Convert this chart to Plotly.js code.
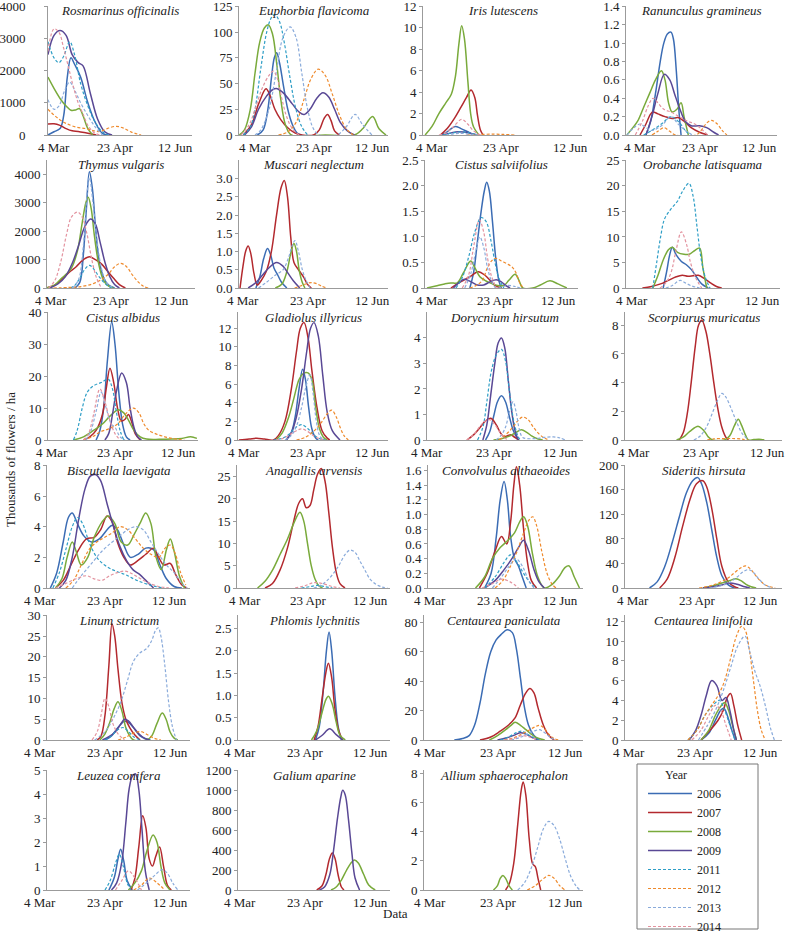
<!DOCTYPE html>
<html><head><meta charset="utf-8">
<script src="https://cdn.plot.ly/plotly-3.0.1.min.js"></script>
<style>html,body{margin:0;padding:0;background:#fff;overflow:hidden}
.fontwarm{position:absolute;left:0;top:0;visibility:hidden;font-family:'Liberation Serif';font-size:13px;pointer-events:none}</style>
</head><body>
<div class="fontwarm" aria-hidden="true">Aa 0123 <i>Aa italic</i></div>
<div id="chart" style="width:788px;height:932px"></div>
<script>
const YEARS = ['2006','2007','2008','2009','2011','2012','2013','2014'];
const X_TICK_VALUES = [0, 50, 100];
const X_TICK_LABELS = ['4 Mar','23 Apr','12 Jun'];

// ---- data: [days since 4 Mar, thousands of flowers / ha] ----
const ros_06 = [[-5,0],[0,100],[5,200],[8,600],[11,1800],[14,2400],[17,2200],[22,1800],[28,1000],[34,400],[40,50],[45,0]];
const ros_07 = [[-5,340],[0,350],[5,300],[10,200],[15,130],[20,110],[27,60],[35,0]];
const ros_08 = [[-5,1800],[0,1450],[6,1080],[10,900],[14,770],[18,780],[21,820],[24,600],[28,200],[32,0]];
const ros_09 = [[-5,2500],[0,3100],[5,3250],[10,3100],[15,2500],[20,2250],[24,2150],[30,1300],[36,500],[42,100],[48,0]];
const ros_11 = [[-5,2900],[0,2400],[4,2250],[8,2450],[13,2900],[17,2500],[22,1600],[28,900],[34,400],[40,100],[45,0]];
const ros_12 = [[-5,800],[0,620],[5,470],[10,360],[18,250],[26,200],[33,130],[38,110],[44,200],[51,270],[57,220],[64,90],[72,0]];
const ros_13 = [[-5,1100],[0,800],[4,900],[9,1400],[13,1650],[17,1400],[22,1000],[28,600],[34,250],[40,0]];
const ros_14 = [[-5,2600],[0,3300],[4,3200],[8,2700],[12,2100],[16,1500],[20,1000],[24,650],[28,300],[33,80],[38,0]];

const eup_06 = [[2,0],[7,5],[11,25],[14,55],[16.5,75],[18.5,80],[21,70],[24,50],[28,25],[32,10],[36,2],[40,0]];
const eup_07 = [[-10,0],[-3,10],[3,30],[9.4,45],[13,38],[17,25],[22,15],[28,7],[34,2],[40,0],[50,0],[55,5],[59,16],[62,20],[65,14],[68,4],[72,0]];
const eup_08 = [[-13.4,0],[-9,5],[-4,25],[0,60],[4,90],[8,104],[11.5,107],[15,98],[18.5,70],[22,35],[26,10],[31,0],[60,0],[85,0],[92,6],[100.5,18],[106,6],[112,0]];
const eup_09 = [[-9,0],[-3,8],[3,25],[10,38],[15,44],[19,45],[25,40],[32,30],[38,22],[42,20],[47,25],[53,36],[58,41],[63,37],[68,25],[73,12],[79,4],[85,0]];
const eup_11 = [[-10,0],[-4,8],[0,25],[5,65],[10,100],[14,114],[17,117],[21,110],[25,90],[30,55],[35,25],[40,8],[45,0]];
const eup_12 = [[20,0],[28,3],[35,12],[42,35],[48,55],[54,64],[60,58],[66,40],[72,20],[78,6],[84,0]];
const eup_13 = [[0,0],[5,5],[12,25],[18,60],[24,95],[30,105],[35,95],[40,60],[45,25],[50,6],[55,0],[70,0],[78,8],[85.5,20],[92,10],[100,0]];
const eup_14 = [[-12,0],[-5,10],[0,25],[6,45],[12,58],[15.7,62],[19,55],[23,35],[27,18],[32,6],[38,0]];

const iri_06 = [[6,0],[11,0.3],[16.7,0.8],[21,0.6],[26,0.3],[30,0.05],[33,0]];
const iri_07 = [[6,0],[11,0.6],[16,1.5],[21,2.6],[25,3.5],[28.3,4.2],[31,3.5],[33,1.8],[35,0.5],[37,0]];
const iri_08 = [[-5,0],[0,0.8],[5,2],[10,3],[14,3.8],[17,5.5],[19.5,8.5],[21.5,10.2],[23.5,9],[26,5],[28,2],[30,0.8],[34,0]];
const iri_09 = [[8,0],[14,0.2],[19,0.3],[25,0.25],[31,0.05],[35,0]];
const iri_11 = [[8,0],[15,0.2],[21,0.3],[27,0.2],[33,0]];
const iri_12 = [[25,0],[35,0.05],[45,0.08],[52,0.05],[60,0]];
const iri_13 = [[10,0],[20,0.15],[30,0.05],[35,0]];
const iri_14 = [[5,0],[10,0.2],[15,0.7],[21.5,1.45],[26,1.0],[30,0.4],[35,0]];

const ran_06 = [[5,0],[9,0.15],[13,0.45],[17,0.8],[20,1.0],[23,1.1],[26,1.12],[28,1.05],[30.5,0.7],[32.5,0.3],[34.5,0]];
const ran_07 = [[0,0],[5,0.12],[9,0.23],[11,0.25],[15,0.23],[21,0.2],[27,0.18],[32,0.19],[37,0.15],[43,0.08],[50,0.03],[57,0]];
const ran_08 = [[-11,0],[-6,0.08],[-2,0.15],[3,0.3],[8,0.45],[13,0.6],[18,0.7],[21,0.6],[24,0.35],[27,0.25],[31,0.28],[34.5,0.35],[37,0.2],[40.6,0]];
const ran_09 = [[5,0],[10,0.2],[15,0.45],[20.4,0.66],[25,0.6],[29,0.45],[33,0.3],[38,0.15],[43,0.1],[50,0.1],[56,0.08],[62,0.03],[66,0]];
const ran_11 = [[3,0],[10,0.05],[18,0.12],[26,0.2],[32,0.15],[38,0.05],[42,0]];
const ran_12 = [[10,0],[15,0.04],[20,0.08],[25,0.04],[30,0],[47,0],[52,0.06],[56,0.13],[60,0.16],[65,0.12],[69,0.05],[73,0]];
const ran_13 = [[-11,0],[-5,0.08],[0,0.12],[5,0.08],[10,0.05],[18,0.1],[26,0.2],[32,0.12],[38,0.05],[44,0]];
const ran_14 = [[-4,0],[2,0.15],[7,0.32],[11,0.4],[15,0.35],[20,0.28],[26,0.25],[33,0.2],[40,0.15],[46,0.12],[52,0.06],[57,0]];

const thy_06 = [[20,0],[24,200],[27,1200],[29.5,2800],[32,4100],[34.5,3500],[37,2200],[40,1000],[44,350],[48,100],[53,0]];
const thy_07 = [[-4,0],[3,100],[9,300],[15,550],[21,750],[27,1000],[32,1100],[37,1000],[42,850],[47,600],[52,350],[57,120],[62,0]];
const thy_08 = [[-4,0],[3,100],[9,350],[13,500],[17,700],[22,1300],[26,2300],[29,3000],[31,3200],[33.5,2800],[36,1900],[39.5,900],[43,350],[47,100],[52,0]];
const thy_09 = [[-1,0],[6,150],[12,400],[18,900],[23,1500],[28,2150],[33,2430],[37,2250],[41,1600],[45,900],[49,400],[53,120],[57,0]];
const thy_11 = [[16,0],[20,100],[24,350],[28,650],[32,800],[36,650],[40,400],[44,200],[48,60],[53,0]];
const thy_12 = [[2,0],[15,20],[25,50],[35,150],[42,300],[48,500],[53,750],[58,870],[63,750],[68,450],[73,200],[77,60],[81,0]];
const thy_13 = [[18,0],[23,300],[27,1500],[30,3300],[32,3900],[35,3000],[38,1800],[42,700],[46,200],[52,0]];
const thy_14 = [[-2,0],[3,250],[8,900],[13,1900],[17,2500],[22,2680],[26,2500],[30,1900],[34,1000],[38,350],[42,0]];

const mus_06 = [[10,0],[13,0.3],[16,0.8],[19,1.08],[21.5,0.9],[24,0.55],[27,0.35],[30,0.15],[34,0]];
const mus_07 = [[-2.3,0],[0,0.6],[2,1.0],[4,1.15],[6,0.95],[8.5,0.4],[11,0.08],[14,0.2],[18,0.45],[22,1.0],[26,2.0],[29.5,2.75],[32,2.95],[34.5,2.5],[37,1.4],[39.5,0.7],[43,0.5],[47,0.3],[50,0.1],[53,0]];
const mus_08 = [[25,0],[30,0.1],[34,0.45],[37,0.95],[39.5,1.22],[41.5,1.0],[43.5,0.5],[46,0.15],[48,0]];
const mus_09 = [[4,0],[10,0.15],[15,0.35],[20,0.55],[26,0.7],[31,0.6],[35,0.4],[39,0.2],[44,0]];
const mus_12 = [[40,0],[45,0.06],[50,0.13],[53,0.15],[57,0.12],[61,0.05],[65,0]];
const mus_13 = [[12,0],[18,0.15],[25,0.35],[31,0.5],[35,0.8],[38,1.15],[40.3,1.3],[43,1.0],[46,0.5],[49,0.2],[52,0]];

const csa_06 = [[30,0],[33,0.3],[36,0.9],[39,1.5],[41.5,1.9],[43.4,2.07],[45.5,1.9],[48,1.3],[50.5,0.6],[53,0.15],[55,0]];
const csa_07 = [[15,0],[20,0.08],[25,0.15],[30,0.22],[36.8,0.32],[42,0.25],[46,0.15],[50,0.05],[55,0]];
const csa_08 = [[-4,0],[3,0.04],[10,0.08],[15,0.1],[20,0.1],[25,0.3],[30.7,0.53],[34,0.4],[38,0.22],[42,0.15],[46,0.1],[52,0.05],[57,0.05],[61,0.15],[66,0.27],[69,0.15],[72,0],[80,0],[86,0.06],[93.6,0.14],[100,0.08],[107,0]];
const csa_09 = [[17,0],[22,0.12],[26,0.17],[31,0.12],[36,0.06],[41,0.06],[46,0.12],[51,0.16],[55,0.12],[59,0.04],[62,0]];
const csa_11 = [[19,0],[24,0.2],[29,0.6],[34,1.1],[39,1.38],[43,1.3],[47,0.9],[50,0.5],[53,0.2],[57,0]];
const csa_12 = [[30,0],[35,0.05],[40,0.15],[44,0.4],[48,0.55],[51,0.58],[55,0.53],[60,0.47],[64,0.4],[67,0.28],[70,0.08],[73,0]];
const csa_13 = [[26,0],[31,0.3],[35,0.75],[38,1.0],[41,0.8],[44,0.4],[47,0.15],[51,0],[60,0.05],[66,0.03],[70,0]];
const csa_14 = [[24,0],[29,0.25],[33,0.8],[37.6,1.33],[41,1.1],[44,0.6],[47,0.25],[51,0]];

const oro_06 = [[24,0],[26.5,3],[29,6.5],[31,8],[34,6.5],[38,5.2],[42,4.5],[46,3.5],[50,2],[54,0.7],[58.7,0]];
const oro_07 = [[8,0],[15,0.3],[22,0.8],[28,1.5],[34,2.2],[38.7,2.5],[43,2.3],[47,2.4],[51,2.5],[56,1.8],[61,0.9],[65,0.3],[69,0]];
const oro_08 = [[16,0],[20,2.5],[24,5.5],[28,7.5],[31,8],[35,7],[40,6.6],[44,6.6],[48,7.3],[52,7.8],[54.5,4],[57.5,0]];
const oro_11 = [[16,0],[19,5],[22,10],[25,13.5],[30,15.5],[35,17],[39,19],[43.8,20.5],[47,18],[50,12],[53,6],[56.5,2],[60,0]];
const oro_13 = [[26,0],[31,0.5],[37,1.5],[41,1.0],[46,0.4],[52,0]];
const oro_14 = [[21.5,0],[26,1],[30,3],[34,7.5],[38,11],[42,8.5],[45,5],[49,2],[53.6,0]];

const cal_06 = [[35,0],[38,3],[41,10],[44,25],[47.4,37],[50,30],[53,15],[56,5],[59,1],[62,0]];
const cal_07 = [[25,0],[30,1],[35,3],[40,8],[43,16],[46,22.5],[49,18],[52,10],[55,6],[58,6.5],[60.6,8],[63,6],[66,2],[70,0]];
const cal_08 = [[17,0],[25,1],[33,3],[40,5],[46,7.5],[52.6,9.5],[57,8.5],[61,6],[65,3],[70,1],[75,0.3],[85,0.2],[95,0.3],[103,0.5],[110,1.0],[115,0.5]];
const cal_09 = [[42,0],[45,2],[48,8],[51,15],[55.3,21],[59,18],[62,10],[65,4],[68,1],[71,0]];
const cal_11 = [[17,0],[20,3],[24,10],[28,15],[33,17],[39,18],[44.7,19],[48,16],[51,9],[54,3],[57,0]];
const cal_12 = [[25,0],[32,1],[38,2.5],[45,3.5],[52,5],[58,8],[64.6,10],[69,8.5],[73,5],[77,3],[82,2],[88,1.2],[95,0.5],[105,0]];
const cal_13 = [[27,0],[31,3],[35,9],[39,15],[43,10],[47,5],[50,4],[54,1],[58,0]];
const cal_14 = [[25,0],[29,2],[33,8],[38,16],[42,12],[46,6],[50,2],[54,0]];

const gla_06 = [[33,0],[37,0.8],[40,2.5],[43,5.5],[45.8,7.6],[48,6.5],[50.5,3.5],[53,1.2],[56,0.2],[58,0]];
const gla_07 = [[-4,0],[4,0.1],[10,0.2],[16,0.1],[23,0],[27,0.5],[32,2],[37,5.5],[41,9.5],[44,12],[46.9,12.6],[50,11],[53,7.5],[57,3.5],[61,1],[65,0.2],[67,0]];
const gla_08 = [[25,0],[30,0.8],[35,2.5],[39,4.5],[43,6.5],[46,7.1],[50,7.2],[53,6.5],[56,3.5],[59,1.2],[62,0.3],[65,0]];
const gla_09 = [[33,0],[37,0.8],[41,2.5],[45,5.5],[49,9.5],[52,12],[54.7,12.6],[58,11.2],[61.5,7],[65,3],[69,1],[75,0]];
const gla_11 = [[23,0],[30,0.2],[35,0.6],[40,1.3],[45,1.65],[50,1.2],[55,0.5],[60,0.1],[64,0]];
const gla_12 = [[41,0],[48,0.3],[55,1],[60,1.8],[65,2.8],[68.5,3.2],[72,2.5],[75,1.4],[78,0.5],[81.5,0]];
const gla_13 = [[32,0],[37,0.5],[41,1.5],[45,3.5],[48,5.5],[51.5,7],[54,5],[56.5,2],[59,0.5],[62,0]];
const gla_14 = [[25,0],[31,0.2],[36,0.6],[41,1.0],[45,1.2],[50,0.9],[55,0.4],[60,0.1],[64,0]];

const dor_06 = [[44,0],[47,0.3],[50,0.9],[53,1.5],[56,1.73],[59,1.5],[62,0.9],[65,0.35],[68.5,0]];
const dor_07 = [[30,0],[35,0.2],[40,0.5],[44,0.75],[48,0.85],[52,0.6],[55,0.3],[58,0.12],[61,0.18],[63.5,0.2],[66,0.1],[69,0]];
const dor_08 = [[50,0],[56,0.05],[62,0.15],[67,0.3],[71,0.4],[75,0.3],[79,0.15],[83,0.05],[87,0]];
const dor_09 = [[42,0],[45,0.6],[48,1.8],[51,3.0],[53.5,3.8],[56,4.0],[58.5,3.6],[61,2.4],[63.5,1.2],[66,0.4],[68.5,0]];
const dor_11 = [[38,0],[42,0.5],[45,1.5],[48,2.6],[51,3.2],[53.5,3.45],[56,3.55],[59,3.1],[62,1.9],[65,0.8],[68,0.2],[70,0]];
const dor_12 = [[54,0],[58,0.15],[62,0.35],[66,0.6],[69,0.8],[72,0.9],[76,0.8],[80,0.5],[84,0.25],[88,0.08],[92,0]];
const dor_13 = [[52,0],[56,0.2],[59,0.5],[62,1.1],[64.7,1.5],[67,1.1],[69.5,0.4],[72,0.1],[80,0.05],[88,0.1],[95,0.12],[100,0.08],[104,0]];
const dor_14 = [[30,0],[35,0.2],[40,0.55],[44,0.75],[47,0.8],[51,0.6],[55,0.3],[58,0.1],[61,0]];

const sco_07 = [[34,0],[37,0.5],[40,1.8],[43,4],[46,6.5],[48.5,8],[51,8.35],[54,7.6],[57,6],[60,4],[63,2.2],[66,0.9],[69,0.2],[71,0]];
const sco_08 = [[32,0],[37,0.2],[42,0.6],[48.4,0.95],[53,0.6],[56,0.2],[59,0],[68,0],[72,0.3],[75.5,1.0],[78.4,1.45],[81,1.0],[84,0.3],[86,0],[90,0.03],[94,0.06],[98,0]];
const sco_12 = [[55,0],[60,0.08],[68,0.1],[76,0.1],[82,0.05],[86,0]];
const sco_13 = [[45,0],[50,0.3],[55,1.0],[59,1.9],[63,2.8],[66,3.25],[69,3.0],[73,2.2],[77,1.3],[81,0.5],[86,0]];

const bis_06 = [[8,0],[13,1],[18,3],[22,4.6],[25,4.9],[29,4.2],[34,3.4],[40,3.0],[46,3.2],[52,3.8],[56,4.1],[60,3.8],[65,2.8],[70,2.0],[76,2.2],[82,2.6],[88,2.5],[93,1.5],[98,0.6],[104,0.1],[110,0]];
const bis_07 = [[12,0],[18,0.5],[24,1.5],[30,2.5],[36,3.2],[42,3.3],[47,3.8],[52,4.7],[56,4.3],[60,3.0],[65,2.0],[70,1.5],[76,1.8],[82,2.2],[88,2.6],[92,2.0],[96,1.5],[101,1.6],[105,0.9],[110,0.2],[114,0]];
const bis_08 = [[12,0],[17,0.6],[21,2.0],[25,3.0],[28,2.4],[32,1.5],[37,2.0],[42,3.3],[48,4.3],[53,4.7],[58,4.2],[63,3.0],[68,2.8],[73,3.5],[78,4.3],[82,4.9],[86,4.2],[90,2.0],[94,1.2],[98,2.5],[101,3.2],[104,2.4],[108,0.8],[112,0]];
const bis_09 = [[15,0],[20,0.5],[25,2],[30,4.5],[35,6.5],[39,7.3],[43,7.4],[47,7.0],[52,5.5],[57,4],[62,2.7],[67,1.8],[72,1.2],[77,0.9],[82,0.5],[88,0]];
const bis_11 = [[10,0],[15,1],[20,2.5],[25,4.0],[29,4.6],[33,4.2],[38,3.0],[44,2.0],[50,1.5],[56,1.2],[62,1.0],[68,0.8],[75,0.5],[85,0.2],[95,0]];
const bis_12 = [[20,0],[26,0.5],[32,1.5],[38,2.5],[44,3.0],[50,3.3],[56,3.6],[62,4.0],[68,3.8],[74,3.2],[80,2.6],[86,2.2],[92,2.0],[97,2.6],[101,2.8],[105,2.2],[109,1.0],[113,0.2]];
const bis_13 = [[25,0],[32,0.8],[40,1.6],[48,2.4],[56,3.0],[62,3.4],[68,3.8],[74,4.0],[80,3.8],[86,3.0],[92,2.2],[98,1.5],[104,1.0],[110,0.3],[114,0]];
const bis_14 = [[12,0],[20,0.3],[28,0.6],[36,0.8],[42,0.6],[48,0.5],[54,0.8],[60,1.0],[66,1.1],[72,0.9],[78,0.6],[85,0.3],[92,0.1],[100,0]];

const ana_07 = [[16,0],[22,1],[28,4],[34,9],[39,15],[43,19],[46,20],[49,18],[52,18.5],[55,22],[58,25.5],[61,26.8],[64,24],[67,17],[70,9],[73,3.5],[76,1],[80,0]];
const ana_08 = [[10,0],[16,1.5],[22,4],[28,7.5],[34,11],[39,14.5],[44,17],[47,15],[50,10],[53,5],[56,2],[59,0.5],[62,0]];
const ana_11 = [[45,0],[52,0.3],[58,0.6],[64,0.3],[70,0]];
const ana_13 = [[55,0],[60,0.5],[65,1.5],[70,3],[75,5],[80,7.5],[84,8.5],[88,8],[92,6],[96,4],[100,2],[105,0.8],[110,0.2],[114,0]];
const ana_14 = [[40,0],[48,0.5],[55,1.2],[62,1.0],[70,0.3],[76,0]];

const con_06 = [[42,0],[47,0.2],[51,0.7],[54,1.2],[57,1.45],[59.5,1.2],[62,0.7],[65,0.4],[68,0.3],[71,0.15],[74,0]];
const con_07 = [[38,0],[44,0.2],[50,0.5],[55,0.7],[59,0.6],[62,0.9],[64.5,1.4],[66.5,1.65],[69,1.4],[72,0.8],[75,0.35],[78,0.1],[82,0]];
const con_08 = [[35,0],[42,0.15],[48,0.4],[54,0.55],[60,0.65],[65,0.75],[69,0.9],[72,0.97],[75,0.85],[79,0.45],[83,0.15],[88,0],[94,0.05],[99,0.15],[104,0.28],[107,0.3],[111,0.15],[115,0]];
const con_09 = [[42,0],[50,0.1],[57,0.25],[63,0.4],[68,0.55],[72,0.65],[76,0.5],[80,0.25],[84,0.08],[88,0]];
const con_11 = [[42,0],[50,0.15],[57,0.35],[62,0.45],[67,0.35],[72,0.2],[78,0.05],[82,0]];
const con_12 = [[50,0],[56,0.1],[62,0.3],[67,0.5],[72,0.75],[76,0.92],[79,0.97],[82,0.85],[86,0.5],[90,0.2],[94,0.05],[97,0]];
const con_13 = [[48,0],[55,0.15],[61,0.3],[66,0.4],[71,0.3],[76,0.1],[80,0]];
const con_14 = [[40,0],[48,0.06],[55,0.12],[62,0.08],[68,0]];

const sid_06 = [[13,0],[19,10],[25,35],[31,75],[37,120],[42,155],[47,175],[51,180],[54,170],[58,140],[62,95],[66,50],[70,20],[75,5],[80,0]];
const sid_07 = [[21,0],[27,15],[33,50],[39,100],[45,145],[50,170],[55,175],[58,165],[62,130],[66,80],[70,35],[75,10],[80,2],[83,0]];
const sid_08 = [[55,0],[62,3],[70,8],[76,12],[81,15],[85,12],[89,6],[93,2],[97,0]];
const sid_09 = [[55,0],[63,2],[70,5],[76,8],[82,6],[88,2],[92,0]];
const sid_12 = [[52,0],[60,3],[67,8],[74,15],[80,25],[85,33],[88.6,36],[92,32],[96,22],[100,12],[105,4],[110,1],[112,0]];
const sid_13 = [[60,0],[68,3],[75,8],[82,18],[87,27],[91,30],[95,25],[99,15],[104,5],[110,0]];

const lin_06 = [[50,0],[55,1],[60,3],[65,4.5],[69,4],[73,2.5],[77,1],[81,0.3],[85,0]];
const lin_07 = [[44,0],[47,1],[50,6],[53,18],[55.4,28],[57.5,25],[60,17],[63,9],[66,5],[69,3],[73,1.2],[77,0]];
const lin_08 = [[46,0],[50,1.5],[54,4.5],[57,7.5],[60,9.2],[63,7],[66,3],[69,1],[72,0],[82,0],[86,1],[90,4],[94,6.5],[97,5],[100,2],[103,0.5],[106,0]];
const lin_09 = [[48,0],[53,0.8],[58,2],[62,3.8],[65,5],[68,4.6],[72,3],[76,1.5],[80,0.5],[84,0]];
const lin_11 = [[50,0],[55,1],[60,2.5],[64,3],[68,2],[72,0.8],[77,0]];
const lin_12 = [[60,0],[67,0.8],[73,1.8],[78,2],[83,1.2],[88,0.4],[93,0]];
const lin_13 = [[42,0],[50,2],[56,5],[62,9],[67,14],[72,19],[77,21],[82,22],[86,24],[89,26.5],[91,27],[93,25],[96,18],[99,9],[102,3],[105,0]];
const lin_14 = [[40,0],[44,2],[47,6],[50,10],[53,8],[56,4],[60,1.5],[65,0]];

const phl_06 = [[58,0],[61,0.3],[64,1.1],[66.5,2.0],[68.5,2.42],[70.5,2.0],[73,1.0],[75.5,0.3],[78,0]];
const phl_07 = [[57,0],[60,0.3],[63,0.9],[66,1.5],[68,1.72],[70.5,1.4],[73,0.7],[76,0.2],[79,0]];
const phl_08 = [[55,0],[59,0.2],[63,0.6],[66,0.9],[68,0.98],[71,0.8],[74,0.4],[77,0.1],[81,0]];
const phl_09 = [[58,0],[63,0.1],[69,0.25],[74,0.12],[79,0]];

const cpa_06 = [[18,0],[24,1],[29,3],[33,10],[37,25],[41,45],[45,60],[49,68],[53,72],[57,75],[61,73],[64,62],[67,42],[70,22],[73,10],[77,3],[81,0]];
const cpa_07 = [[37,0],[45,2],[52,6],[58,10],[63,15],[67,24],[71,32],[74,35],[77,32],[80,22],[84,10],[88,3],[92,0]];
const cpa_08 = [[44,0],[50,3],[56,7],[60,10],[63,12],[67,10],[71,7],[75,4],[79,1.5],[85,0]];
const cpa_09 = [[50,0],[57,1.5],[63,3.5],[67,5],[71,4],[75,2],[80,0]];
const cpa_11 = [[52,0],[58,2],[64,5],[68,6],[72,4],[77,1.5],[82,0]];
const cpa_12 = [[55,0],[62,1.5],[68,4],[74,7],[78,9],[81,10],[84,8.5],[88,4],[92,1],[96,0]];
const cpa_13 = [[60,0],[66,1.5],[72,4],[77,6],[81,7],[85,5],[89,2],[93,0]];
const cpa_14 = [[55,0],[62,1],[68,3],[74,2],[80,0]];

const cli_06 = [[55,0],[61,0.7],[66,2],[70,3],[72.5,3.2],[75,2.5],[78,1.2],[81,0]];
const cli_07 = [[55,0],[62,1],[68,2],[72,3],[75,4.3],[77.5,4.7],[80,3.5],[83,1.5],[86,0]];
const cli_08 = [[55,0],[61,1],[66,2.5],[70,3.4],[73,3.8],[76,3],[79,1.5],[82,0]];
const cli_09 = [[46,0],[51,1],[55,2.5],[59,4.5],[63,6],[67,5.5],[71,4],[74,4.3],[77,3],[80,1],[82,0]];
const cli_11 = [[45,0],[52,1],[58,2.5],[64,3.5],[69,4],[73,3],[77,1.5],[81,0]];
const cli_12 = [[45,0],[52,1],[58,2.5],[63,3.5],[68,4.5],[73,6],[78,8.5],[82,10.5],[86,11.5],[89,11],[92,9],[95,6],[98,3],[101,1],[104,0]];
const cli_13 = [[53,0],[60,1.5],[66,3],[72,5],[78,7.5],[83,9.5],[88.5,10.5],[92,9],[96,7],[100,5.5],[104,3.5],[108,1.2],[111,0]];
const cli_14 = [[48,0],[55,1],[61,2.5],[66,3.5],[70,3],[74,1.5],[78,0]];

const leu_06 = [[53,0],[57,0.5],[60,1.3],[62,1.7],[64.5,1.2],[67,0.4],[71,0]];
const leu_07 = [[70,0],[73,0.5],[76,1.8],[79,3.1],[81.5,2.6],[84,1.3],[86.5,1.0],[89,1.4],[92,1.8],[95,1.0],[98,0.2],[101,0]];
const leu_08 = [[68,0],[73,0.3],[78,0.8],[82,1.6],[87,2.3],[90,2.0],[93,1.0],[96,0.3],[100,0]];
const leu_09 = [[55,0],[59,0.3],[63,1.2],[66,2.8],[68.5,4.2],[71,4.75],[73.5,4.85],[76,4.2],[78.5,2.5],[81,0.8],[84,0]];
const leu_11 = [[50,0],[54,0.4],[58,1.1],[61,1.5],[64,1.0],[67,0.3],[70,0]];
const leu_12 = [[72,0],[78,0.2],[84,0.5],[90,0.3],[96,0]];
const leu_13 = [[75,0],[82,0.3],[88,0.6],[94,0.85],[98,0.7],[102,0.3],[106,0]];
const leu_14 = [[58,0],[63,0.4],[68,0.8],[73,0.5],[78,0]];

const gal_07 = [[59,0],[63,40],[66,150],[69,320],[71,370],[73,320],[75.5,150],[78,30],[80,0]];
const gal_08 = [[70,0],[74,30],[78,100],[82,200],[86,280],[88,300],[91,270],[95,160],[99,50],[104,0]];
const gal_09 = [[61,0],[65,30],[69,150],[72,400],[75,720],[77.5,930],[79,1000],[81,950],[83.5,700],[86,380],[88.5,120],[92,0]];

const all_07 = [[56,0],[59,0.5],[62,1.8],[65,4.5],[67.5,6.8],[69,7.4],[71,6.5],[73.5,3.5],[76,1.8],[78,1.6],[80,0.8],[82,0]];
const all_08 = [[47,0],[50,0.3],[52,0.8],[54,1.0],[56,0.8],[58.5,0.3],[61,0]];
const all_12 = [[72,0],[78,0.3],[83,0.7],[88,1.0],[92,0.8],[96,0.3],[100,0]];
const all_13 = [[65,0],[70,0.5],[75,1.5],[80,3],[84,4.2],[88,4.7],[92,4.4],[96,3.5],[100,2.2],[104,1.0],[108,0.3],[111,0]];

// ---- y tick labels per panel ----
const T_ROS = ['0','1000','2000','3000','4000'];
const T_EUP = ['0','25','50','75','100','125'];
const T_IRI = ['0','2','4','6','8','10','12'];
const T_RAN = ['0.0','0.2','0.4','0.6','0.8','1.0','1.2','1.4'];
const T_THY = ['0','1000','2000','3000','4000'];
const T_MUS = ['0.0','0.5','1.0','1.5','2.0','2.5','3.0'];
const T_CSA = ['0','0.5','1.0','1.5','2.0','2.5'];
const T_ORO = ['0','5','10','15','20','25'];
const T_CAL = ['0','10','20','30','40'];
const T_GLA = ['0','2','4','6','8','10','12'];
const T_DOR = ['0','1','2','3','4'];
const T_SCO = ['0','2','4','6','8'];
const T_BIS = ['0','2','4','6','8'];
const T_ANA = ['0','5','10','15','20','25'];
const T_CON = ['0.0','0.2','0.4','0.6','0.8','1.0','1.2','1.4','1.6'];
const T_SID = ['0','40','80','120','160','200'];
const T_LIN = ['0','5','10','15','20','25','30'];
const T_PHL = ['0.0','0.5','1.0','1.5','2.0','2.5'];
const T_CPA = ['0','20','40','60','80'];
const T_CLI = ['0','2','4','6','8','10','12'];
const T_LEU = ['0','1','2','3','4','5'];
const T_GAL = ['0','200','400','600','800','1000','1200'];
const T_ALL = ['0','2','4','6','8'];

// ---- panel layout (pixel geometry: [axis left, right, px of 4 Mar, px of 12 Jun]) ----
const PANELS = [
 {name:'Rosmarinus officinalis', s:[ros_06,ros_07,ros_08,ros_09,ros_11,ros_12,ros_13,ros_14], t:T_ROS, ymax:4000, row:0, px:[48,192,54,175], so:16},
 {name:'Euphorbia flavicoma', s:[eup_06,eup_07,eup_08,eup_09,eup_11,eup_12,eup_13,eup_14], t:T_EUP, ymax:125, row:0, px:[239,388,255,372]},
 {name:'Iris lutescens', s:[iri_06,iri_07,iri_08,iri_09,iri_11,iri_12,iri_13,iri_14], t:T_IRI, ymax:12, row:0, px:[423,582,432,570]},
 {name:'Ranunculus gramineus', s:[ran_06,ran_07,ran_08,ran_09,ran_11,ran_12,ran_13,ran_14], t:T_RAN, ymax:1.4, row:0, px:[626,777,640,759]},
 {name:'Thymus vulgaris', s:[thy_06,thy_07,thy_08,thy_09,thy_11,thy_12,thy_13,thy_14], t:T_THY, ymax:4500, row:1, px:[47,195,51,171]},
 {name:'Muscari neglectum', s:[mus_06,mus_07,mus_08,mus_09,null,mus_12,mus_13,null], t:T_MUS, ymax:3.5, row:1, px:[239,388,243,372]},
 {name:'Cistus salviifolius', s:[csa_06,csa_07,csa_08,csa_09,csa_11,csa_12,csa_13,csa_14], t:T_CSA, ymax:2.5, row:1, px:[425,578,432,558]},
 {name:'Orobanche latisquama', s:[oro_06,oro_07,oro_08,null,oro_11,null,oro_13,oro_14], t:T_ORO, ymax:25, row:1, px:[626,780,632,762]},
 {name:'Cistus albidus', s:[cal_06,cal_07,cal_08,cal_09,cal_11,cal_12,cal_13,cal_14], t:T_CAL, ymax:40, row:2, px:[48,198,52,178]},
 {name:'Gladiolus illyricus', s:[gla_06,gla_07,gla_08,gla_09,gla_11,gla_12,gla_13,gla_14], t:T_GLA, ymax:13.7, row:2, px:[238,388,244,372]},
 {name:'Dorycnium hirsutum', s:[dor_06,dor_07,dor_08,dor_09,dor_11,dor_12,dor_13,dor_14], t:T_DOR, ymax:5, row:2, px:[427,583,427,560]},
 {name:'Scorpiurus muricatus', s:[null,sco_07,sco_08,null,null,sco_12,sco_13,null], t:T_SCO, ymax:8.9, row:2, px:[625,782,634,767]},
 {name:'Biscutella laevigata', s:[bis_06,bis_07,bis_08,bis_09,bis_11,bis_12,bis_13,bis_14], t:T_BIS, ymax:8, row:3, px:[47,190,40,169]},
 {name:'Anagallis arvensis', s:[null,ana_07,ana_08,null,ana_11,null,ana_13,ana_14], t:T_ANA, ymax:27.5, row:3, px:[237,390,245,370]},
 {name:'Convolvulus althaeoides', s:[con_06,con_07,con_08,con_09,con_11,con_12,con_13,con_14], t:T_CON, ymax:1.67, row:3, px:[428,583,430,560]},
 {name:'Sideritis hirsuta', s:[sid_06,sid_07,sid_08,sid_09,null,sid_12,sid_13,null], t:T_SID, ymax:200, row:3, px:[625,782,633,760]},
 {name:'Linum strictum', s:[lin_06,lin_07,lin_08,lin_09,lin_11,lin_12,lin_13,lin_14], t:T_LIN, ymax:30, row:4, px:[47,190,40,170]},
 {name:'Phlomis lychnitis', s:[phl_06,phl_07,phl_08,phl_09,null,null,null,null], t:T_PHL, ymax:2.79, row:4, px:[238,390,240,370]},
 {name:'Centaurea paniculata', s:[cpa_06,cpa_07,cpa_08,cpa_09,cpa_11,cpa_12,cpa_13,cpa_14], t:T_CPA, ymax:84.7, row:4, px:[424,583,430,565]},
 {name:'Centaurea linifolia', s:[cli_06,cli_07,cli_08,cli_09,cli_11,cli_12,cli_13,cli_14], t:T_CLI, ymax:12.6, row:4, px:[625,782,629,760]},
 {name:'Leuzea conifera', s:[leu_06,leu_07,leu_08,leu_09,leu_11,leu_12,leu_13,leu_14], t:T_LEU, ymax:5, row:5, px:[47,190,40,170]},
 {name:'Galium aparine', s:[null,gal_07,gal_08,gal_09,null,null,null,null], t:T_GAL, ymax:1200, row:5, px:[238,390,240,370]},
 {name:'Allium sphaerocephalon', s:[null,all_07,all_08,null,null,all_12,all_13,null], t:T_ALL, ymax:8.2, row:5, px:[424,583,430,565]}
];

const W = 788, H = 932;
const ROWS = [[6,135],[160,288],[312,440],[465,588],[615,740],[770,890]];
const STYLE = [
 {color:'#3b6cb4', dash:'solid', width:1.5},
 {color:'#b3292e', dash:'solid', width:1.5},
 {color:'#79aa3b', dash:'solid', width:1.5},
 {color:'#594895', dash:'solid', width:1.5},
 {color:'#2e9ec6', dash:'3px,2px', width:1.2},
 {color:'#ef8a2c', dash:'3px,2px', width:1.2},
 {color:'#8aabdb', dash:'3px,2px', width:1.2},
 {color:'#e3939f', dash:'3px,2px', width:1.2}
];
const FONT = 'Liberation Serif';
const AXC = '#9b9b9b';
const TXT = '#222222';

const traces = [];
const layout = {
  width: W, height: H, autosize: false, margin: {l:0, r:0, t:0, b:0, pad:0, autoexpand:false},
  paper_bgcolor: '#ffffff', plot_bgcolor: 'rgba(0,0,0,0)',
  font: {family: FONT, size: 13, color: TXT},
  showlegend: true, annotations: [], shapes: [],
  legend: {x: 643/W, y: 1-779/H, xanchor: 'left', yanchor: 'top', bgcolor: 'rgba(0,0,0,0)',
           borderwidth: 0, font: {family: FONT, size: 12, color: TXT}, tracegroupgap: 0, itemwidth: 44}
};
const shown = {};
PANELS.forEach((p, i) => {
  const n = i + 1, sfx = n === 1 ? '' : String(n);
  const xa = 'x' + sfx, ya = 'y' + sfx;
  const [ax, rx, p0, p100] = p.px;
  const sc = (p100 - p0) / 100;
  const [top, bot] = ROWS[p.row];
  layout['xaxis' + sfx] = {domain: [ax/W, rx/W], range: [(ax-p0)/sc, (rx-p0)/sc], anchor: ya,
    showline: true, linecolor: AXC, linewidth: 1, ticks: '', showticklabels: false,
    showgrid: false, zeroline: false, fixedrange: true};
  layout['yaxis' + sfx] = {domain: [1-bot/H, 1-top/H], range: [0, p.ymax * 1.003], anchor: xa,
    showline: true, linecolor: AXC, linewidth: 1, ticks: 'outside', ticklen: 3, tickcolor: AXC,
    tickvals: p.t.map(Number), ticktext: p.t, showgrid: false, zeroline: false, fixedrange: true,
    ticklabeloverflow: 'allow', automargin: false,
    tickfont: {family: FONT, size: 13, color: TXT}, ticklabelstandoff: p.so || 0};
  p.s.forEach((s, k) => {
    if (!s) return;
    traces.push({type: 'scatter', mode: 'lines', xaxis: xa, yaxis: ya, name: YEARS[k],
      x: s.map(q => q[0]), y: s.map(q => q[1]), showlegend: !shown[k], hoverinfo: 'skip',
      line: {color: STYLE[k].color, width: STYLE[k].width, dash: STYLE[k].dash, shape: 'spline', smoothing: 1}});
    shown[k] = true;
  });
  layout.annotations.push({xref: 'paper', yref: 'paper', x: (ax+rx)/2/W, y: 1-(top+5)/H,
    text: '<i>' + p.name + '</i>', showarrow: false, xanchor: 'center', yanchor: 'middle',
    font: {family: FONT, size: 13, color: TXT}});
  X_TICK_VALUES.forEach((v, j) => {
    layout.annotations.push({xref: 'paper', yref: 'paper', x: (p0 + v*sc)/W, y: 1-(bot+3)/H,
      text: X_TICK_LABELS[j], showarrow: false, xanchor: 'center', yanchor: 'top',
      font: {family: FONT, size: 13, color: TXT}});
  });
});
layout.annotations.push({xref:'paper', yref:'paper', x: 10/W, y: 1-460/H, text: 'Thousands of flowers / ha',
  textangle: -90, showarrow: false, xanchor: 'center', yanchor: 'middle', font: {family: FONT, size: 13, color: TXT}});
layout.annotations.push({xref:'paper', yref:'paper', x: 395/W, y: 1-913/H, text: 'Data',
  showarrow: false, xanchor: 'center', yanchor: 'middle', font: {family: FONT, size: 13, color: TXT}});
layout.annotations.push({xref:'paper', yref:'paper', x: 676/W, y: 1-775/H, text: 'Year',
  showarrow: false, xanchor: 'center', yanchor: 'middle', font: {family: FONT, size: 12, color: TXT}});
layout.shapes.push({type: 'rect', xref: 'paper', yref: 'paper', x0: 637/W, x1: 758/W, y0: 1-929/H, y1: 1-764/H,
  line: {color: '#777777', width: 1}, fillcolor: 'rgba(0,0,0,0)'});

function draw() { Plotly.newPlot('chart', traces, layout, {displayModeBar: false}); }
if (document.fonts && document.fonts.load) {
  Promise.all([document.fonts.load('13px "Liberation Serif"'), document.fonts.load('italic 13px "Liberation Serif"')])
    .then(draw, draw);
} else { draw(); }
</script>
</body></html>
